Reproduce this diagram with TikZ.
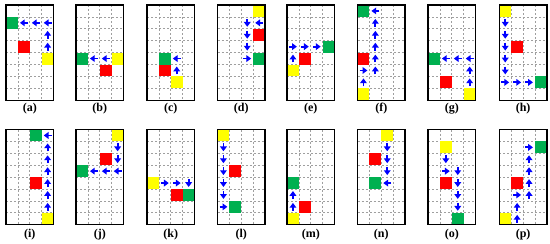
\documentclass[tikz,border=0pt]{standalone}
\usepackage{fontspec}
\setmainfont{Liberation Serif}
\usetikzlibrary{arrows.meta}
\definecolor{gr}{RGB}{0,176,80}
\definecolor{rd}{RGB}{255,0,0}
\definecolor{yl}{RGB}{255,255,0}
\definecolor{bl}{RGB}{0,0,255}
\tikzset{
 gridl/.style={draw=gray!75, line width=0.55pt, dash pattern=on 1.6pt off 1.4pt},
 frame/.style={draw=black, line width=1.05pt},
 mvarr/.style={draw=bl, line width=1.4pt, -{Triangle[length=3.6pt,width=5pt]}},
 lab/.style={font=\fontsize{9}{10}\selectfont\bfseries, inner sep=0pt}
}
\newcommand{\csq}[3]{\fill[#1] (#2,#3) rectangle ++(1,1);}
\newcommand{\aU}[2]{\draw[mvarr] (#1+0.5,#2+0.83) -- (#1+0.5,#2+0.17);}
\newcommand{\aD}[2]{\draw[mvarr] (#1+0.5,#2+0.17) -- (#1+0.5,#2+0.83);}
\newcommand{\aL}[2]{\draw[mvarr] (#1+0.83,#2+0.5) -- (#1+0.17,#2+0.5);}
\newcommand{\aR}[2]{\draw[mvarr] (#1+0.17,#2+0.5) -- (#1+0.83,#2+0.5);}
\newcommand{\pnl}[3]{%
 \begin{scope}[shift={({0.75*#1 pt},{-0.75*#2 pt})},x=8.925pt,y=-8.925pt]
 \foreach \i in {1,2,3} {\draw[gridl] (\i,0) -- (\i,8);}
 \foreach \j in {1,...,7} {\draw[gridl] (0,\j) -- (4,\j);}
 #3
 \draw[frame] (0,0) rectangle (4,8);
 \end{scope}}
\begin{document}
\begin{tikzpicture}[x=0.75pt,y=-0.75pt]
\useasboundingbox (0,0) rectangle (550,243);
% row 1
\pnl{6}{5}{\csq{gr}{0}{1}\csq{rd}{1}{3}\csq{yl}{3}{4}\aU{3}{3}\aU{3}{2}\aL{3}{1}\aL{2}{1}\aL{1}{1}}
\pnl{76}{5}{\csq{gr}{0}{4}\csq{yl}{3}{4}\csq{rd}{2}{5}\aL{2}{4}\aL{1}{4}}
\pnl{147}{5}{\csq{gr}{1}{4}\csq{rd}{1}{5}\csq{yl}{2}{6}\aU{2}{5}\aL{2}{4}}
\pnl{217.5}{5}{\csq{yl}{3}{0}\csq{rd}{3}{2}\csq{gr}{3}{4}\aL{3}{1}\aD{2}{1}\aD{2}{2}\aD{2}{3}\aR{2}{4}}
\pnl{287}{5}{\csq{gr}{3}{3}\csq{rd}{1}{4}\csq{yl}{0}{5}\aU{0}{4}\aR{0}{3}\aR{1}{3}\aR{2}{3}}
\pnl{357.5}{5}{\csq{gr}{0}{0}\csq{rd}{0}{4}\csq{yl}{0}{7}\aL{1}{0}\foreach \k in {1,...,5}{\aU{1}{\k}}\aR{0}{5}\aU{0}{6}}
\pnl{428}{5}{\csq{gr}{0}{4}\csq{rd}{1}{6}\csq{yl}{3}{7}\aU{3}{6}\aU{3}{5}\aL{3}{4}\aL{2}{4}\aL{1}{4}}
\pnl{499.3}{5}{\csq{yl}{0}{0}\csq{rd}{1}{3}\csq{gr}{3}{6}\foreach \k in {1,...,5}{\aD{0}{\k}}\aR{0}{6}\aR{1}{6}\aR{2}{6}}
% row 2
\pnl{6}{129.5}{\csq{gr}{2}{0}\csq{rd}{2}{4}\csq{yl}{3}{7}\aL{3}{0}\foreach \k in {1,...,6}{\aU{3}{\k}}}
\pnl{76}{129.5}{\csq{yl}{3}{0}\csq{rd}{2}{2}\csq{gr}{0}{3}\aD{3}{1}\aD{3}{2}\aL{3}{3}\aL{2}{3}\aL{1}{3}}
\pnl{147}{129.5}{\csq{yl}{0}{4}\csq{rd}{2}{5}\csq{gr}{3}{5}\aR{1}{4}\aR{2}{4}\aD{3}{4}}
\pnl{217.5}{129.5}{\csq{yl}{0}{0}\csq{rd}{1}{3}\csq{gr}{1}{6}\foreach \k in {1,...,5}{\aD{0}{\k}}\aR{0}{6}}
\pnl{287}{129.5}{\csq{yl}{0}{7}\csq{rd}{1}{6}\csq{gr}{0}{4}\aU{0}{6}\aU{0}{5}}
\pnl{357.5}{129.5}{\csq{yl}{2}{0}\csq{rd}{1}{2}\csq{gr}{1}{4}\aD{2}{1}\aD{2}{2}\aD{2}{3}\aL{2}{4}}
\pnl{428}{129.5}{\csq{yl}{1}{1}\csq{rd}{1}{4}\csq{gr}{2}{7}\aD{1}{2}\aR{1}{3}\foreach \k in {3,...,6}{\aD{2}{\k}}}
\pnl{499.3}{129.5}{\csq{yl}{0}{7}\csq{rd}{1}{4}\csq{gr}{3}{1}\aU{1}{7}\aU{1}{6}\aR{1}{5}\foreach \k in {2,...,5}{\aU{2}{\k}}\aR{2}{1}}
% labels
\node[lab] (la) at (29.8,108.5) {(a)};
\node[lab] (lb) at (99.8,108.5) {(b)};
\node[lab] (lc) at (170.8,108.5) {(c)};
\node[lab] (ld) at (241.3,108.5) {(d)};
\node[lab] (le) at (310.8,108.5) {(e)};
\node[lab] (lf) at (381.3,108.5) {(f)};
\node[lab] (lg) at (451.8,108.5) {(g)};
\node[lab] (lh) at (523.1,108.5) {(h)};
\node[lab] (li) at (29.8,234.5) {(i)};
\node[lab] (lj) at (99.8,234.5) {(j)};
\node[lab] (lk) at (170.8,234.5) {(k)};
\node[lab] (ll) at (241.3,234.5) {(l)};
\node[lab] (lm) at (310.8,234.5) {(m)};
\node[lab] (ln) at (381.3,234.5) {(n)};
\node[lab] (lo) at (451.8,234.5) {(o)};
\node[lab] (lp) at (523.1,234.5) {(p)};
\end{tikzpicture}
\end{document}
